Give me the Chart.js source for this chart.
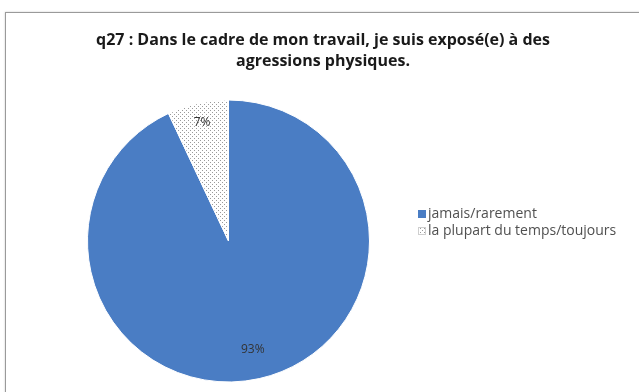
<!DOCTYPE html>
<html>
<head>
<meta charset="utf-8">
<script src="https://cdn.jsdelivr.net/npm/chart.js"></script>
<style>
  html, body { margin: 0; padding: 0; background: #fff; }
  #wrap { position: relative; width: 639px; height: 392px; overflow: hidden; }
  #frame { position: absolute; left: 5px; top: 12px; width: 700px; height: 500px; border: 1px solid #9a9a9a; box-shadow: 0 0 2px #ccc; }
  canvas { position: absolute; left: 0; top: 0; }
</style>
</head>
<body>
<div id="wrap">
  <div id="frame"></div>
  <canvas id="pieChart" width="639" height="392"></canvas>
</div>
<script>
const titleLines = ['q27 : Dans le cadre de mon travail, je suis exposé(e) à des', 'agressions physiques.'];
const categories = ['jamais/rarement', 'la plupart du temps/toujours'];
const values = [93, 7];

// dotted fill like the Excel pattern
const makeDots = () => {
  const p = document.createElement('canvas');
  p.width = 4; p.height = 4;
  const c = p.getContext('2d');
  c.fillStyle = '#ffffff';
  c.fillRect(0, 0, 4, 4);
  c.fillStyle = '#9a9a9a';
  c.fillRect(0, 0, 1, 1);
  c.fillRect(2, 2, 1, 1);
  return c.createPattern(p, 'repeat');
};

const canvas = document.getElementById('pieChart');
const ctx = canvas.getContext('2d');
const dots = makeDots();
const colors = ['#4a7dc4', dots];

const extras = {
  id: 'extras',
  afterDraw(chart) {
    const c = chart.ctx;
    c.save();
    // title
    c.fillStyle = '#1a1a1a';
    c.font = 'bold 16px "Open Sans"';
    c.textAlign = 'center';
    c.textBaseline = 'middle';
    c.fillText(titleLines[0], 323, 40);
    c.fillText(titleLines[1], 323, 61);

    // slice labels
    const meta = chart.getDatasetMeta(0);
    c.font = '12px "Open Sans"';
    c.fillStyle = '#333';
    meta.data.forEach((arc, i) => {
      const mid = (arc.startAngle + arc.endAngle) / 2;
      const r = i === 0 ? arc.outerRadius * 0.79 : arc.outerRadius * 0.86;
      c.fillText(values[i] + '%', arc.x + Math.cos(mid) * r, arc.y + Math.sin(mid) * r);
    });

    // legend
    c.textAlign = 'left';
    c.font = '14px "Open Sans"';
    categories.forEach((label, i) => {
      const y = 214 + i * 17;
      c.fillStyle = colors[i];
      c.fillRect(418, y - 4, 8, 8);
      if (i === 1) {
        c.strokeStyle = '#cfcfcf';
        c.lineWidth = 1;
        c.strokeRect(418.5, y - 3.5, 7, 7);
      }
      c.fillStyle = '#505050';
      c.fillText(label, 428, y);
    });
    c.restore();
  }
};

new Chart(ctx, {
  type: 'pie',
  data: {
    labels: categories,
    datasets: [{
      data: values,
      backgroundColor: colors,
      borderColor: '#ffffff',
      borderWidth: 1
    }]
  },
  options: {
    responsive: false,
    animation: false,
    layout: { padding: { left: 87, right: 269, top: 99, bottom: 9 } },
    plugins: {
      legend: { display: false },
      title: { display: false },
      tooltip: { enabled: false }
    }
  },
  plugins: [extras]
});
</script>
</body>
</html>
